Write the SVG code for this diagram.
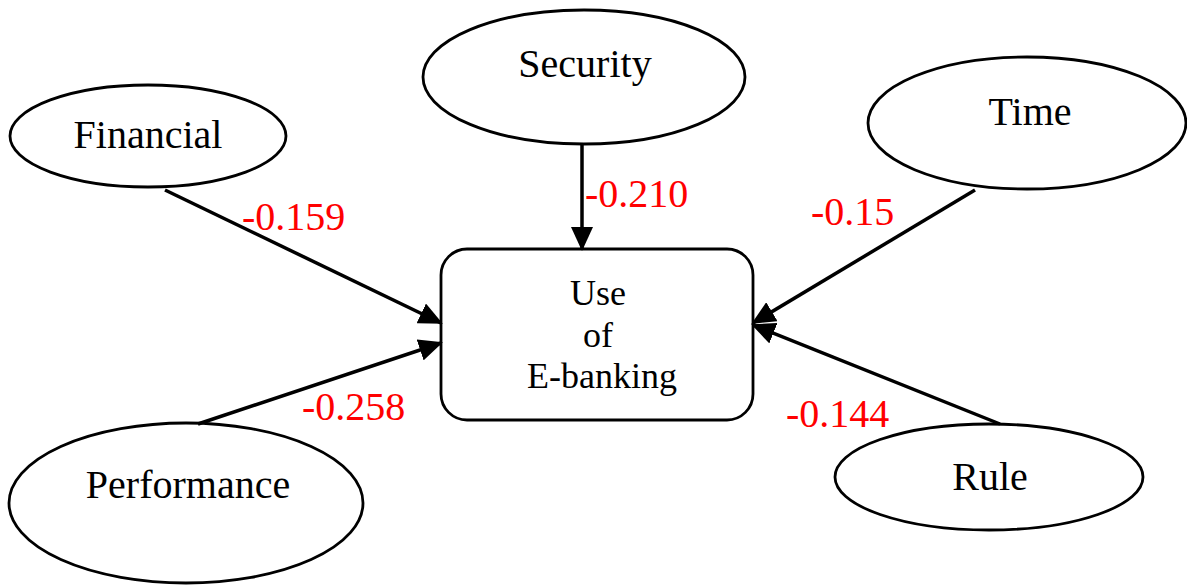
<svg xmlns="http://www.w3.org/2000/svg" width="1187" height="586" viewBox="0 0 1187 586">
<style>
.n{fill:#fff;stroke:#000;stroke-width:2.8}
.t{font-size:40px;fill:#000;text-anchor:middle}
.bt{font-size:36px;fill:#000;text-anchor:middle}
.e{stroke:#000;stroke-width:3.5;fill:none;marker-end:url(#ah)}
.l{font-size:40px;fill:#ff0000}
</style>
<defs>
<marker id="ah" markerUnits="userSpaceOnUse" markerWidth="24" markerHeight="22" refX="22" refY="11" orient="auto">
<path d="M0,0 L24,11 L0,22 Z" fill="#000"/>
</marker>
</defs>
<rect width="1187" height="586" fill="#fff"/>
<g font-family="'Liberation Serif', 'Times New Roman', Times, serif">
<g id="financial"><ellipse class="n" cx="148" cy="136" rx="138" ry="51"/><text class="t" x="148" y="148">Financial</text></g>
<g id="security"><ellipse class="n" cx="584" cy="77" rx="161" ry="67"/><text class="t" x="585" y="77">Security</text></g>
<g id="time"><ellipse class="n" cx="1027" cy="123" rx="159" ry="66"/><text class="t" x="1030" y="125">Time</text></g>
<g id="performance"><ellipse class="n" cx="186" cy="503" rx="177" ry="80"/><text class="t" x="188" y="498">Performance</text></g>
<g id="rule"><ellipse class="n" cx="989" cy="477" rx="154" ry="53"/><text class="t" x="990" y="490">Rule</text></g>
<g id="use"><rect class="n" x="441" y="249" width="312" height="171" rx="26"/>
<text class="bt" x="598" y="305">Use</text><text class="bt" x="598" y="347">of</text><text class="bt" x="602" y="388">E-banking</text></g>
<g id="connectors">
<line class="e" x1="165" y1="190" x2="441" y2="323"/>
<line class="e" x1="582" y1="144" x2="582" y2="249"/>
<line class="e" x1="975" y1="190" x2="753" y2="323"/>
<line class="e" x1="198" y1="424" x2="441" y2="343"/>
<line class="e" x1="1000" y1="424" x2="753" y2="325"/>
</g>
<g id="labels">
<text class="l" x="242" y="230">-0.159</text>
<text class="l" x="585" y="207">-0.210</text>
<text class="l" x="811" y="225">-0.15</text>
<text class="l" x="302" y="420">-0.258</text>
<text class="l" x="786" y="427">-0.144</text>
</g>
</g>
</svg>
